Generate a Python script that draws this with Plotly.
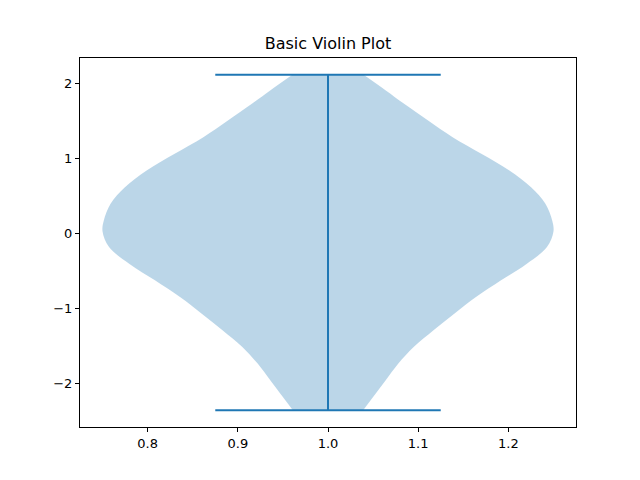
import plotly.graph_objects as go

# Violin profile: y levels and density half-widths (x units)
levels = [2.12, 1.911, 1.733, 1.511, 1.288, 1.067, 0.844, 0.621, 0.400, 0.177, 0.03,
          -0.179, -0.400, -0.622, -0.845, -1.067, -1.289, -1.512, -1.733, -1.956, -2.179, -2.355]
half_widths = [0.0395, 0.0641, 0.0844, 0.1110, 0.1382, 0.1700, 0.2011, 0.2252, 0.2411, 0.2486, 0.2500,
               0.2428, 0.2205, 0.1919, 0.1641, 0.1400, 0.1170, 0.0950, 0.0780, 0.0640, 0.0500, 0.0390]
position = 1.0
data_min = -2.355
data_max = 2.12
cap_half = 0.125

blue = "#1f77b4"
fill = "rgba(31,119,180,0.3)"

fig = go.Figure()
# left edge, then right edge filled horizontally to the left edge
fig.add_trace(go.Scatter(x=[position - w for w in half_widths], y=levels, mode="lines",
                         line=dict(width=0, shape="spline", smoothing=1.0, color=fill),
                         hoverinfo="skip", showlegend=False))
fig.add_trace(go.Scatter(x=[position + w for w in half_widths], y=levels, mode="lines",
                         fill="tonextx", fillcolor=fill,
                         line=dict(width=0, shape="spline", smoothing=1.0, color=fill),
                         hoverinfo="skip", showlegend=False))
# center bar
fig.add_trace(go.Scatter(x=[position, position], y=[data_min, data_max], mode="lines",
                         line=dict(color=blue, width=2), showlegend=False))
# caps
for v in (data_min, data_max):
    fig.add_trace(go.Scatter(x=[position - cap_half, position + cap_half], y=[v, v],
                             mode="lines", line=dict(color=blue, width=2), showlegend=False))

span = data_max - data_min
axis_common = dict(showgrid=False, zeroline=False, showline=True, linecolor="black",
                   linewidth=1, mirror=True, ticks="outside", ticklen=4, tickwidth=1,
                   tickcolor="black", tickfont=dict(family="DejaVu Sans", size=13, color="black"))
# page body has an 8px margin, so the figure is 632x472 to fill the 640x480 window
fig.update_layout(
    width=632, height=472,
    margin=dict(l=72, r=64, t=50, b=53),
    paper_bgcolor="white", plot_bgcolor="white",
    title=dict(text="Basic Violin Plot", x=0.5, xref="paper", y=1 - 35 / 472,
               yanchor="middle", xanchor="center",
               font=dict(family="DejaVu Sans", size=16, color="black")),
    xaxis=dict(range=[0.725, 1.275], tickvals=[0.8, 0.9, 1.0, 1.1, 1.2],
               tickformat=".1f", **axis_common),
    yaxis=dict(range=[data_min - 0.05 * span, data_max + 0.05 * span],
               tickvals=[-2, -1, 0, 1, 2], **axis_common),
)
fig.write_html("out.html")
